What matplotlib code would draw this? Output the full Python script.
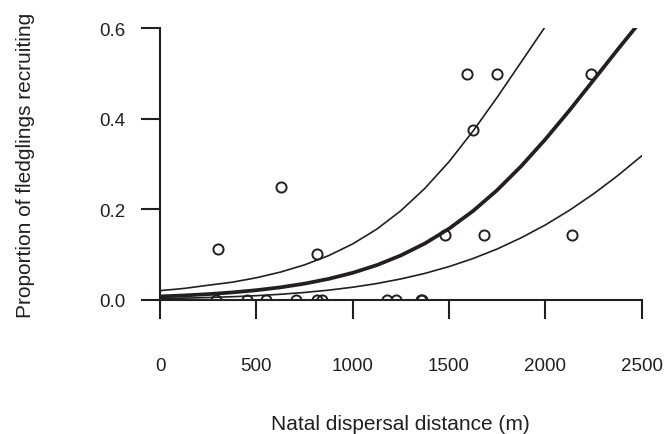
import matplotlib.pyplot as plt

plt.rcParams['font.family'] = ['Liberation Sans', 'DejaVu Sans']

# observed proportions per natal dispersal distance
dist = [300, 630, 815, 1477, 1592, 1627, 1682, 1748, 2137, 2237,
        290, 450, 550, 705, 813, 840, 1178, 1226, 1352, 1362]
prop = [0.111, 0.25, 0.1, 0.143, 0.5, 0.375, 0.143, 0.5, 0.143, 0.5,
        0, 0, 0, 0, 0, 0, 0, 0, 0, 0]

# fitted curve and confidence band, every 125 m
grid = [0, 125, 250, 375, 500, 625, 750, 875, 1000, 1125, 1250,
        1375, 1500, 1625, 1750, 1875, 2000, 2125, 2250, 2375, 2500]
fit = [0.0072, 0.0094, 0.0123, 0.0161, 0.0210, 0.0273, 0.0355, 0.0460, 0.0594, 0.0764, 0.0979,
       0.1244, 0.157, 0.1962, 0.2423, 0.2954, 0.3546, 0.4185, 0.4855, 0.5528, 0.6185]
upper = [0.0200, 0.0249, 0.0320, 0.0387, 0.0485, 0.0610, 0.0770, 0.0974, 0.1233, 0.1559, 0.1967,
         0.2463, 0.305, 0.373, 0.4475, 0.5257, 0.604, 0.6777, 0.745, 0.8018, 0.849]
lower = [0.0026, 0.0035, 0.0048, 0.0066, 0.0089, 0.0120, 0.0160, 0.0211, 0.0276, 0.0357, 0.0459,
         0.0582, 0.0732, 0.0911, 0.1121, 0.1370, 0.1653, 0.1977, 0.234, 0.2741, 0.318]

ink = '#231f20'
W, H = 669, 435
fig = plt.figure(figsize=(W/100, H/100), dpi=100)
ax = fig.add_axes([160/W, 1-300.7/H, 481.7/W, 271.4/H])

ax.plot(grid, upper, color=ink, lw=1.2, solid_joinstyle='round')
ax.plot(grid, lower, color=ink, lw=1.2, solid_joinstyle='round')
ax.plot(grid, fit, color=ink, lw=2.7, solid_joinstyle='round')
ax.plot(dist, prop, 'o', mfc='none', mec=ink, ms=7.3, mew=1.4)

ax.set_xlim(0, 2500)
ax.set_ylim(0, 0.6)
ax.set_xticks([0, 500, 1000, 1500, 2000, 2500])
ax.set_yticks([0.0, 0.2, 0.4, 0.6])
ax.set_yticklabels(['0.0', '0.2', '0.4', '0.6'])
for s in ['top', 'right']:
    ax.spines[s].set_visible(False)
for s in ['left', 'bottom']:
    ax.spines[s].set_linewidth(1.5)
    ax.spines[s].set_color(ink)
ax.tick_params(axis='both', direction='out', length=14, width=1.5, color=ink,
               labelsize=13.5, labelcolor=ink)
ax.tick_params(axis='y', pad=11)
ax.tick_params(axis='x', pad=27)

fig.text(400.5/W, 1-425/H, 'Natal dispersal distance (m)', ha='center', va='center',
         fontsize=15, color=ink)
fig.text(26/W, 1-165/H, 'Proportion of fledglings recruiting', ha='center', va='center',
         rotation=90, fontsize=15, color=ink)

fig.savefig('out.png', dpi=100)
